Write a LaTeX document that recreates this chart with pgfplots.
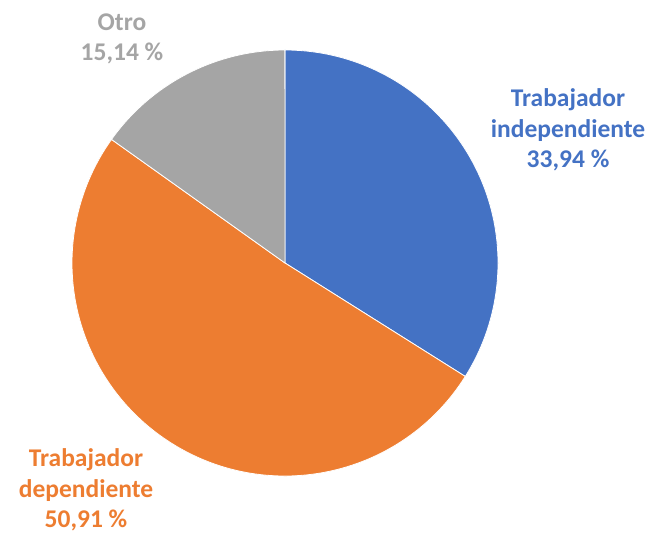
\documentclass[border=0pt]{standalone}
\usepackage{pgfplots}
\pgfplotsset{compat=1.18}
\usepackage{fontspec}
\setmainfont{Carlito}
\definecolor{cblue}{HTML}{4472C4}
\definecolor{corange}{HTML}{ED7D31}
\definecolor{cgray}{HTML}{A5A5A5}

\begin{document}
\begin{tikzpicture}
\begin{axis}[
  width=657bp, height=534bp,
  scale only axis,
  xmin=0, xmax=657,
  ymin=0, ymax=534,
  hide axis,
  clip=false,
]
% keep the page as large as the axis
\path (axis cs:0,0) rectangle (axis cs:657,534);
% shares in percent
\pgfmathsetmacro{\pa}{33.94}
\pgfmathsetmacro{\pb}{50.91}
\pgfmathsetmacro{\pc}{15.14}
\pgfmathsetmacro{\aa}{90}
\pgfmathsetmacro{\ab}{90-3.6*\pa}
\pgfmathsetmacro{\ac}{\ab-3.6*\pb}
\pgfmathsetmacro{\ad}{\ac-3.6*\pc}
\def\R{213bp}
\fill[cblue, draw=white, line width=0.8pt] (axis cs:285,271) -- ++(\aa:\R) arc[start angle=\aa, end angle=\ab, radius=\R] -- cycle;
\fill[corange, draw=white, line width=0.8pt] (axis cs:285,271) -- ++(\ab:\R) arc[start angle=\ab, end angle=\ac, radius=\R] -- cycle;
\fill[cgray, draw=white, line width=0.8pt] (axis cs:285,271) -- ++(\ac:\R) arc[start angle=\ac, end angle=\ad, radius=\R] -- cycle;

\tikzset{lbl/.style={align=center, inner sep=0pt, font=\bfseries\fontsize{25.5bp}{30.5bp}\selectfont}}
\node[lbl, text=cblue] at (axis cs:568,404) {Trabajador\\independiente\\33,94 \%};
\node[lbl, text=corange] at (axis cs:86,44) {Trabajador\\dependiente\\50,91 \%};
\node[lbl, text=cgray] at (axis cs:122,495) {Otro\\15,14 \%};
\end{axis}
\end{tikzpicture}
\end{document}
